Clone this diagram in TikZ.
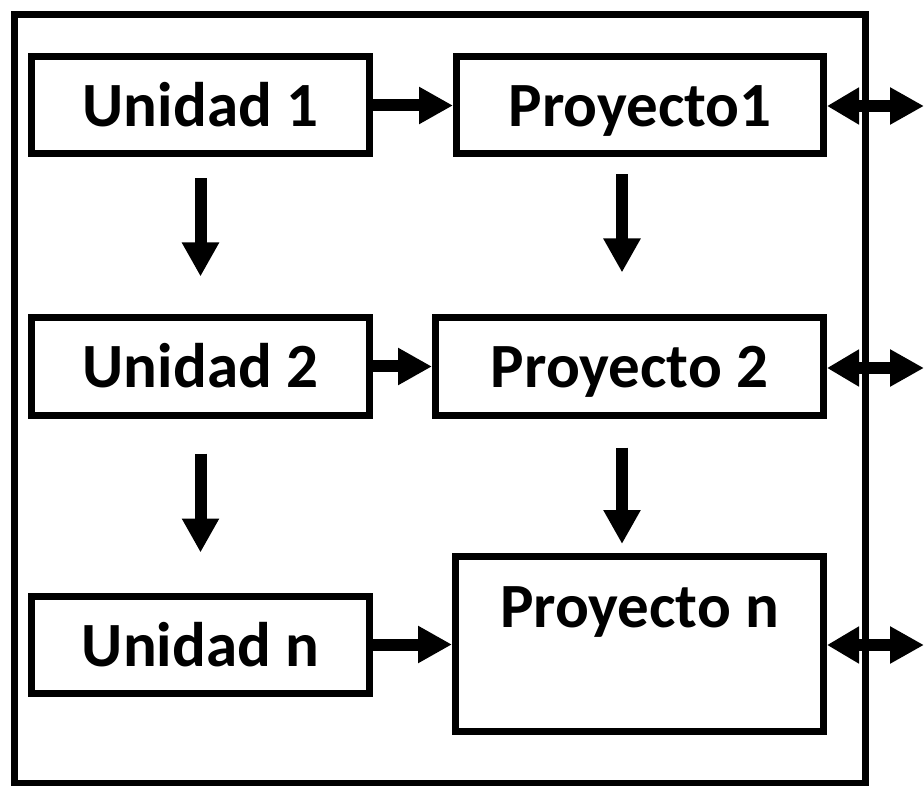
\documentclass[tikz,border=0pt]{standalone}
\usepackage{fontspec}
\setmainfont{Carlito}
\usetikzlibrary{arrows.meta}
\tikzset{
  box/.style={draw, line width=7pt, inner xsep=0pt, inner ysep=0pt, anchor=base,
    text height=70pt, text depth=27pt, font=\fontsize{63}{70}\selectfont\bfseries},
  arr/.style={line width=12pt, -{Triangle[length=34pt,width=35pt]}},
  darr/.style={line width=12pt, {Triangle[length=32pt,width=35pt]}-{Triangle[length=34pt,width=35pt]}}
}
\begin{document}
\begin{tikzpicture}[x=1pt,y=-1pt]
\useasboundingbox (0,0) rectangle (924,786);
\draw[line width=7pt] (14.5,14.5) rectangle (865.5,783);
\node[box, minimum width=338pt] (u1) at (200.5,127) {Unidad 1};
\node[box, minimum width=338pt] (u2) at (200.5,388) {Unidad 2};
\node[box, minimum width=338pt] (un) at (200.5,666) {Unidad n};
\node[box, minimum width=367pt] (p1) at (640,127) {Proyecto1};
\node[box, minimum width=388pt] (p2) at (629.5,388) {Proyecto 2};
\node[box, minimum width=368pt, text height=70.5pt, text depth=104.5pt] (pn) at (639.5,627) {Proyecto n};
\coordinate (e1) at (924,106);
\coordinate (e2) at (924,368);
\coordinate (e3) at (924,645);
\draw[arr] (u1.east) -- (p1.west);
\draw[arr] (u2.east) -- (p2.west);
\draw[arr] (un.east) -- (un.east -| pn.west);
\draw[arr] ([yshift=-21pt]u1.south) -- ([yshift=38pt]u2.north);
\draw[arr] ([yshift=-35pt]u2.south) -- ([yshift=40pt]un.north);
\draw[arr] ([xshift=-18pt,yshift=-17pt]p1.south) -- ([xshift=-7.5pt,yshift=42pt]p2.north);
\draw[arr] ([xshift=-7.5pt,yshift=-29pt]p2.south) -- ([xshift=-17.5pt,yshift=9pt]pn.north);
\draw[darr] (p1.east |- e1) -- (e1);
\draw[darr] (p2.east |- e2) -- (e2);
\draw[darr] (pn.east |- e3) -- (e3);
\end{tikzpicture}
\end{document}
